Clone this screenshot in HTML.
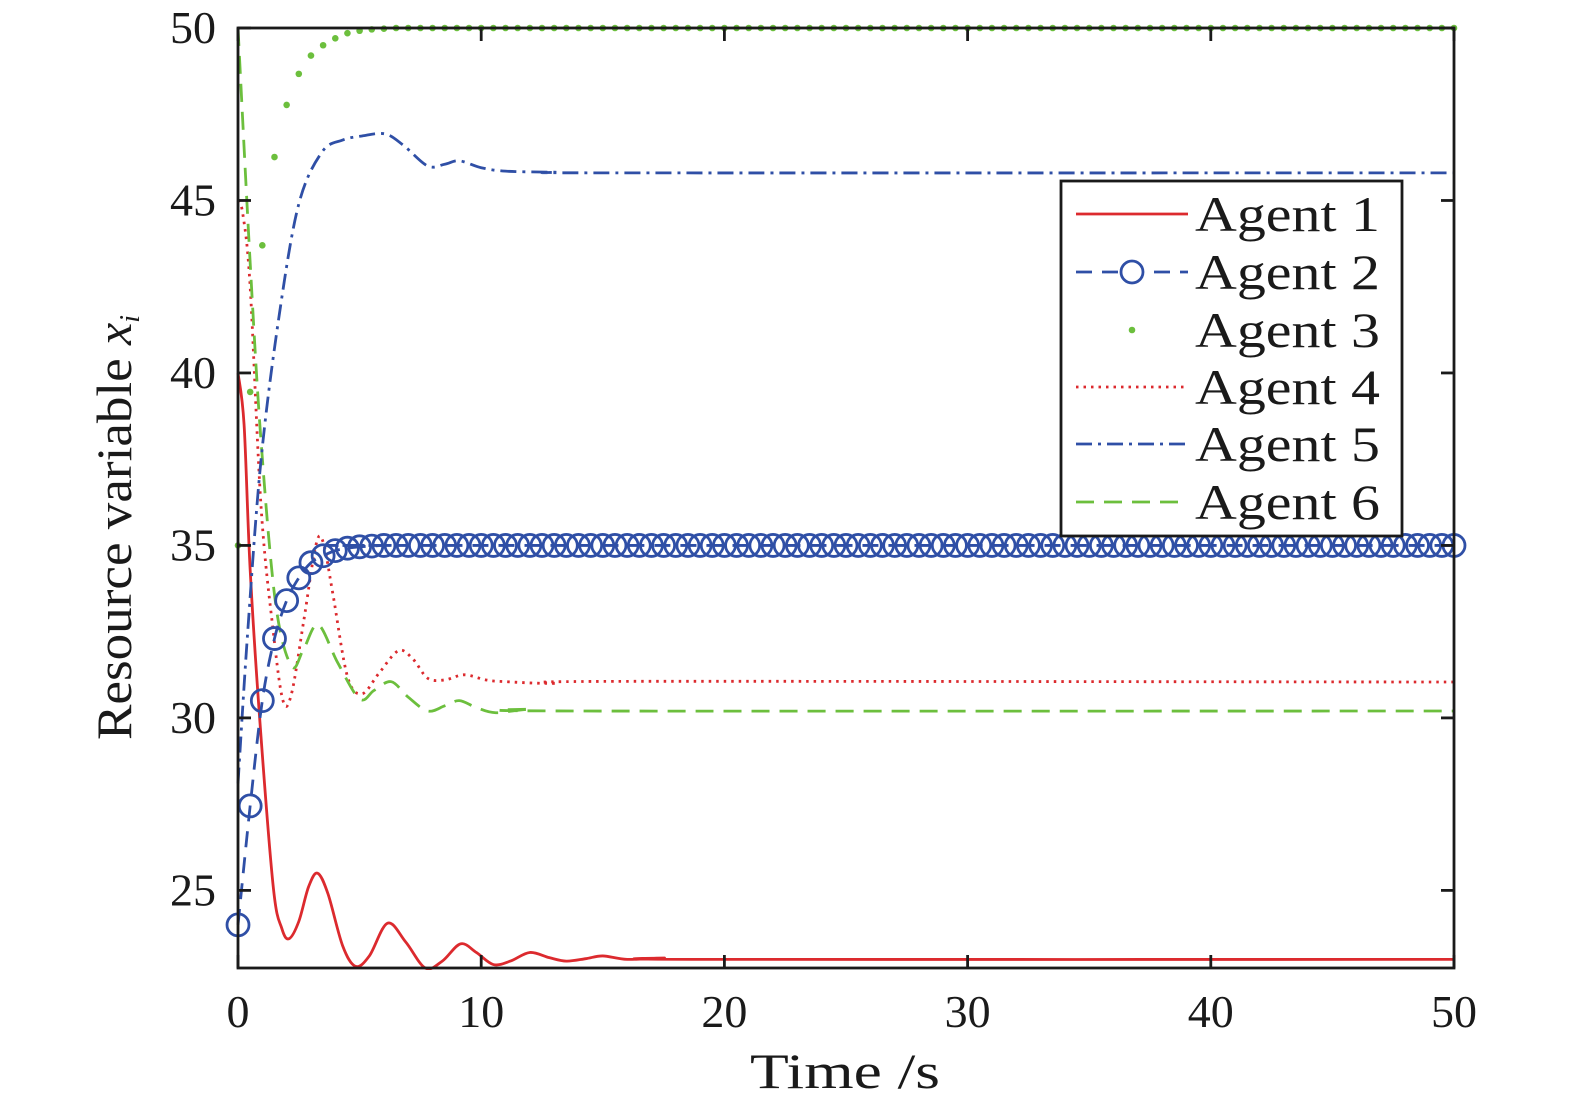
<!DOCTYPE html>
<html><head><meta charset="utf-8"><style>
html,body{margin:0;padding:0;background:#fff;overflow:hidden;}
svg{display:block;font-family:"Liberation Serif",serif;}
</style></head><body>
<svg id="chart" width="1575" height="1108" viewBox="0 0 1575 1108" xmlns="http://www.w3.org/2000/svg">
<rect width="1575" height="1108" fill="#fff"/>
<g id="series"></g>
<g id="axes"></g>
<g id="legend"></g>
</svg>
<script>
// ---- data ----
const xTicks = [0,10,20,30,40,50];
const yTicks = [25,30,35,40,45,50];
const a1t = [0,0.25,0.5,0.9,1.45,1.8,2.1,2.5,2.9,3.27,3.7,4.3,4.83,5.4,6.15,6.9,7.7,8.4,9.15,9.8,10.5,11.2,12,12.8,13.5,14.3,15,16,17.5,19,50];
const a1v = [40,38.5,34.3,29.9,25.1,23.9,23.6,24.1,25.1,25.5,24.9,23.4,22.8,23.1,24.05,23.5,22.75,22.95,23.45,23.2,22.85,22.95,23.2,23.05,22.95,23.02,23.1,23.0,23.04,23.0,23.0];
const a2t = [0,0.5,1,1.5,2,2.5,3,3.5,4,4.5,5,5.5,6,6.5,7,50];
const a2v = [24,27.45,30.5,32.3,33.4,34.06,34.5,34.7,34.85,34.92,34.96,34.98,35,35,35,35];
const a3t = [0,0.5,1,1.5,2,2.5,3,3.5,4,4.5,5,5.5,6,6.5,50];
const a3v = [35,39.45,43.7,46.26,47.77,48.67,49.2,49.5,49.7,49.85,49.92,49.96,49.98,50,50];
const a4t = [0,0.2,0.5,0.95,1.45,1.85,2.2,2.7,3.2,3.5,3.9,4.5,5.1,5.8,6.6,7.2,7.8,8.5,9.3,10.2,11,13,16,50];
const a4v = [45,44.6,42.5,36.1,32.5,30.5,30.7,32.8,35,35.1,33.6,31.2,30.7,31.3,31.95,31.7,31.15,31.1,31.25,31.1,31.05,31.0,31.06,31.04];
const a5t = [0,0.4,0.95,1.7,2.5,3.45,4.3,5.1,6.05,6.8,7.8,8.5,9.1,10,11,13,16,50];
const a5v = [28.1,32.5,37.5,41.7,44.9,46.4,46.75,46.87,46.93,46.6,46.0,46.05,46.15,45.95,45.85,45.82,45.8,45.8];
const a6t = [0,0.5,0.95,1.55,2.2,2.7,3.3,4.1,5.0,5.6,6.3,7.0,7.8,8.5,9.1,9.8,10.6,12,14,50];
const a6v = [50,43.2,38.0,33.3,31.5,32.0,32.7,31.6,30.55,30.8,31.05,30.6,30.2,30.35,30.5,30.3,30.15,30.25,30.2,30.2];
const a2MarkVals = [24,27.45,30.5,32.3,33.4,34.06,34.5,34.7,34.85,34.92,34.96,34.98,35];
const a3DotVals = [35,39.45,43.7,46.26,47.77,48.67,49.2,49.5,49.7,49.85,49.92,49.96,49.98];
const markStep = 0.5;

// ---- scales ----
const X0=238, X1=1454, Y0=28, Y1=968, YMIN=22.75, YMAX=50, XMIN=0, XMAX=50;
const sx = t => X0 + (t-XMIN)/(XMAX-XMIN)*(X1-X0);
const sy = v => Y1 - (v-YMIN)/(YMAX-YMIN)*(Y1-Y0);
const NS="http://www.w3.org/2000/svg";
const RED="#dc2a2e", BLUE="#2f4fa6", GREEN="#6cbf3d";
function mk(tag, attrs, parent){const e=document.createElementNS(NS,tag);for(const k in attrs)e.setAttribute(k,attrs[k]);parent.appendChild(e);return e;}
function smoothPath(ts, vs){
  const p = ts.map((t,i)=>[sx(t),sy(vs[i])]);
  let d = `M${p[0][0]},${p[0][1]}`;
  for(let i=0;i<p.length-1;i++){
    const p0=p[Math.max(0,i-1)], p1=p[i], p2=p[i+1], p3=p[Math.min(p.length-1,i+2)];
    const c1=[p1[0]+(p2[0]-p0[0])/6, p1[1]+(p2[1]-p0[1])/6];
    const c2=[p2[0]-(p3[0]-p1[0])/6, p2[1]-(p3[1]-p1[1])/6];
    d+=` C${c1[0]},${c1[1]} ${c2[0]},${c2[1]} ${p2[0]},${p2[1]}`;
  }
  return d;
}
const gS=document.getElementById('series');
const clip=mk('clipPath',{id:'plotclip'},gS);
mk('rect',{x:X0-14,y:Y0-10,width:X1-X0+28,height:Y1-Y0+12},clip);
const gP=mk('g',{'clip-path':'url(#plotclip)'},gS);

function line(ts,vs,color,dash,name){
  const e=mk('path',{d:smoothPath(ts,vs),fill:'none',stroke:color,'stroke-width':2.8},gP);
  if(dash)e.setAttribute('stroke-dasharray',dash);
  
  
}
line(a1t,a1v,RED,null,'agent-1-line');
line(a4t,a4v,RED,'2.5,5','agent-4-line');
line(a6t,a6v,GREEN,'18,10','agent-6-line');
line(a5t,a5v,BLUE,'16,6,3,6','agent-5-line');
line(a2t,a2v,BLUE,'16,10','agent-2-line');
for(let i=0;i*markStep<=XMAX+1e-9;i++){
  const v = i<a3DotVals.length ? a3DotVals[i] : 50;
  const c=mk('circle',{cx:sx(i*markStep),cy:sy(v),r:3.3,fill:GREEN},gP);
  
  
}
for(let i=0;i*markStep<=XMAX+1e-9;i++){
  const v = i<a2MarkVals.length ? a2MarkVals[i] : 35;
  const c=mk('ellipse',{cx:sx(i*markStep),cy:sy(v),rx:11,ry:11,fill:'none',stroke:BLUE,'stroke-width':2.8},gP);
  
  
}

// ---- axes ----
const gA=document.getElementById('axes');
const frame=mk('rect',{x:X0,y:Y0,width:X1-X0,height:Y1-Y0,fill:'none',stroke:'#1a1a1a','stroke-width':2.8},gA);


xTicks.forEach(t=>{
  const x=sx(t);
  mk('line',{x1:x,y1:Y1,x2:x,y2:Y1-13,stroke:'#1a1a1a','stroke-width':2.8},gA);
  mk('line',{x1:x,y1:Y0,x2:x,y2:Y0+13,stroke:'#1a1a1a','stroke-width':2.8},gA);
  const tx=mk('text',{x:x,y:1027,'text-anchor':'middle','font-size':46,fill:'#1a1a1a'},gA);
  tx.textContent=t;
  
  
});
yTicks.forEach(v=>{
  const y=sy(v);
  mk('line',{x1:X0,y1:y,x2:X0+13,y2:y,stroke:'#1a1a1a','stroke-width':2.8},gA);
  mk('line',{x1:X1,y1:y,x2:X1-13,y2:y,stroke:'#1a1a1a','stroke-width':2.8},gA);
  const tx=mk('text',{x:216,y:y+15,'text-anchor':'end','font-size':46,fill:'#1a1a1a'},gA);
  tx.textContent=v;
  
  
});
</script>
<script>
(function(){
const svg=document.getElementById('chart');
const NS="http://www.w3.org/2000/svg";
const xt=document.createElementNS(NS,'text');
xt.setAttribute('x',750);xt.setAttribute('y',1088);xt.setAttribute('font-size',50);xt.setAttribute('fill','#1a1a1a');
xt.setAttribute('textLength',190);xt.setAttribute('lengthAdjust','spacingAndGlyphs');
xt.textContent='Time /s';


svg.appendChild(xt);
const yt=document.createElementNS(NS,'text');
yt.setAttribute('transform','translate(131,740) rotate(-90)');yt.setAttribute('font-size',50);yt.setAttribute('fill','#1a1a1a');
yt.innerHTML='<tspan textLength="395" lengthAdjust="spacingAndGlyphs">Resource variable </tspan><tspan font-style="italic">x</tspan><tspan font-style="italic" font-size="28" dy="8">i</tspan>';


svg.appendChild(yt);
})();
</script>
<script>
(function(){
const g=document.getElementById('legend');
const NS="http://www.w3.org/2000/svg";
function mk(tag,a){const e=document.createElementNS(NS,tag);for(const k in a)e.setAttribute(k,a[k]);g.appendChild(e);return e;}
const box=mk('rect',{x:1061,y:181,width:341,height:355,fill:'#fff',stroke:'#1a1a1a','stroke-width':2.8});


const RED="#dc2a2e", BLUE="#2f4fa6", GREEN="#6cbf3d";
const ys=[214,272,330,387,444,502];
const styles=[[RED,null],[BLUE,'16,10'],[null,null],[RED,'2.5,5'],[BLUE,'16,6,3,6'],[GREEN,'18,10']];
ys.forEach((y,i)=>{
  const [c,d]=styles[i];
  if(c){const l=mk('line',{x1:1076,y1:y,x2:1188,y2:y,stroke:c,'stroke-width':2.8});if(d)l.setAttribute('stroke-dasharray',d);
    
    }
  if(i===1){const m=mk('circle',{cx:1132,cy:y,r:11,fill:'#fff',stroke:BLUE,'stroke-width':2.8});
    
    }
  if(i===2){const m=mk('circle',{cx:1132,cy:y,r:3.3,fill:GREEN});
    
    }
  const t=mk('text',{x:1195,y:y+17,'font-size':50,fill:'#1a1a1a',textLength:185,lengthAdjust:'spacingAndGlyphs'});
  t.textContent='Agent '+(i+1);
  
  
});
})();
</script>
</body></html>
